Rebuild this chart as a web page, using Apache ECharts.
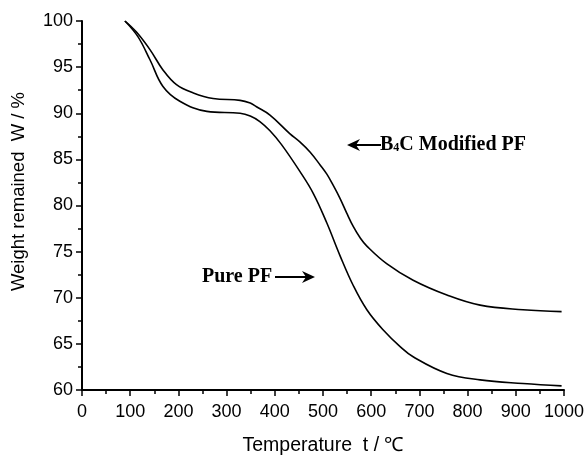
<!DOCTYPE html>
<html>
<head>
<meta charset="utf-8">
<script src="https://cdn.jsdelivr.net/npm/echarts@6/dist/echarts.min.js"></script>
<style>
  html, body { margin: 0; padding: 0; background: #fff; }
  #chart { width: 586px; height: 455px; }
</style>
</head>
<body>
<div id="chart"></div>
<script>
// TGA curves
const tempModified = [89, 113, 141, 168, 196, 231, 272, 328, 349, 362, 390, 431, 452, 473, 494, 508, 521, 535, 549, 563, 577, 591, 632, 687, 757, 826, 915, 995]
const weightModified = [100, 98.8, 96.9, 94.7, 93.1, 92.2, 91.6, 91.4, 91.1, 90.7, 89.8, 87.8, 86.9, 85.8, 84.4, 83.4, 82.2, 80.8, 79.2, 77.7, 76.5, 75.6, 73.7, 71.9, 70.3, 69.2, 68.7, 68.5]

const tempPure = [89, 116, 141, 168, 203, 259, 328, 349, 369, 390, 414, 452, 480, 508, 535, 563, 591, 625, 660, 687, 757, 826, 915, 995]
const weightPure = [100, 98.3, 95.8, 92.9, 91.3, 90.2, 90.0, 89.7, 89.1, 88.1, 86.6, 83.7, 81.3, 78.1, 74.6, 71.3, 68.7, 66.5, 64.7, 63.6, 61.8, 61.1, 60.7, 60.45]

const xTicks = [0, 1000, 100]   // min, max, interval
const yTicks = [60, 100, 5]

const zip = (xs, ys) => xs.map((x, i) => [x, ys[i]])

const chart = echarts.init(document.getElementById('chart'))

const axisCommon = {
  axisLine: { show: true, lineStyle: { color: '#000', width: 2 } },
  axisTick: { show: true, inside: false, length: 6, lineStyle: { color: '#000', width: 1.5 } },
  minorTick: { show: true, splitNumber: 2, length: 4, lineStyle: { color: '#000', width: 1.5 } },
  splitLine: { show: false },
  axisLabel: { color: '#000', fontSize: 18, fontFamily: 'Liberation Sans, Arial', formatter: v => String(v) },
  nameTextStyle: { color: '#000', fontSize: 18, fontFamily: 'Liberation Sans, Arial' }
}

const option = {
  backgroundColor: '#fff',
  animation: false,
  grid: { left: 82, right: 22, top: 21, bottom: 65, containLabel: false, outerBoundsMode: 'none' },
  xAxis: Object.assign({}, axisCommon, {
    type: 'value',
    min: xTicks[0], max: xTicks[1], interval: xTicks[2],
    name: 'Temperature  t / \u2103',
    nameLocation: 'middle',
    nameGap: 46,
    nameTextStyle: Object.assign({}, axisCommon.nameTextStyle, { fontSize: 19.5 }),
    axisLabel: Object.assign({}, axisCommon.axisLabel, { margin: 13, showMaxLabel: true })
  }),
  yAxis: Object.assign({}, axisCommon, {
    type: 'value',
    min: yTicks[0], max: yTicks[1], interval: yTicks[2],
    name: 'Weight remained  W / %',
    nameLocation: 'middle',
    nameGap: 54,
    nameTextStyle: Object.assign({}, axisCommon.nameTextStyle, { fontSize: 18.5, padding: [0, 0, 0, 28] }),
    axisLabel: Object.assign({}, axisCommon.axisLabel, { margin: 9 })
  }),
  series: [
    {
      name: 'B4C Modified PF',
      type: 'line',
      data: zip(tempModified, weightModified),
      smooth: 0.4,
      showSymbol: false,
      lineStyle: { color: '#000', width: 1.6 }
    },
    {
      name: 'Pure PF',
      type: 'line',
      data: zip(tempPure, weightPure),
      smooth: 0.4,
      showSymbol: false,
      lineStyle: { color: '#000', width: 1.6 }
    }
  ],
  graphic: [
    // Pure PF label + right arrow
    {
      type: 'text', left: 202, top: 267,
      style: { text: 'Pure PF', font: 'bold 20px "Liberation Serif", serif', fill: '#000' }
    },
    {
      type: 'line', shape: { x1: 275, y1: 277, x2: 308, y2: 277 },
      style: { stroke: '#000', lineWidth: 2 }
    },
    {
      type: 'polygon', shape: { points: [[315, 277], [302, 271], [306, 277], [302, 283]] },
      style: { fill: '#000' }
    },
    // B4C Modified PF label + left arrow
    {
      type: 'line', shape: { x1: 354, y1: 145, x2: 381, y2: 145 },
      style: { stroke: '#000', lineWidth: 2 }
    },
    {
      type: 'polygon', shape: { points: [[347, 145], [360, 139], [356, 145], [360, 151]] },
      style: { fill: '#000' }
    },
    {
      type: 'text', left: 380, top: 135,
      style: {
        text: '{b|B}{s|4}{b|C Modified PF}',
        rich: {
          b: { font: 'bold 20px "Liberation Serif", serif', fill: '#000' },
          s: { font: 'bold 12px "Liberation Serif", serif', fill: '#000', padding: [6, 0, 0, 0] }
        }
      }
    }
  ]
}

chart.setOption(option)
</script>
</body>
</html>
